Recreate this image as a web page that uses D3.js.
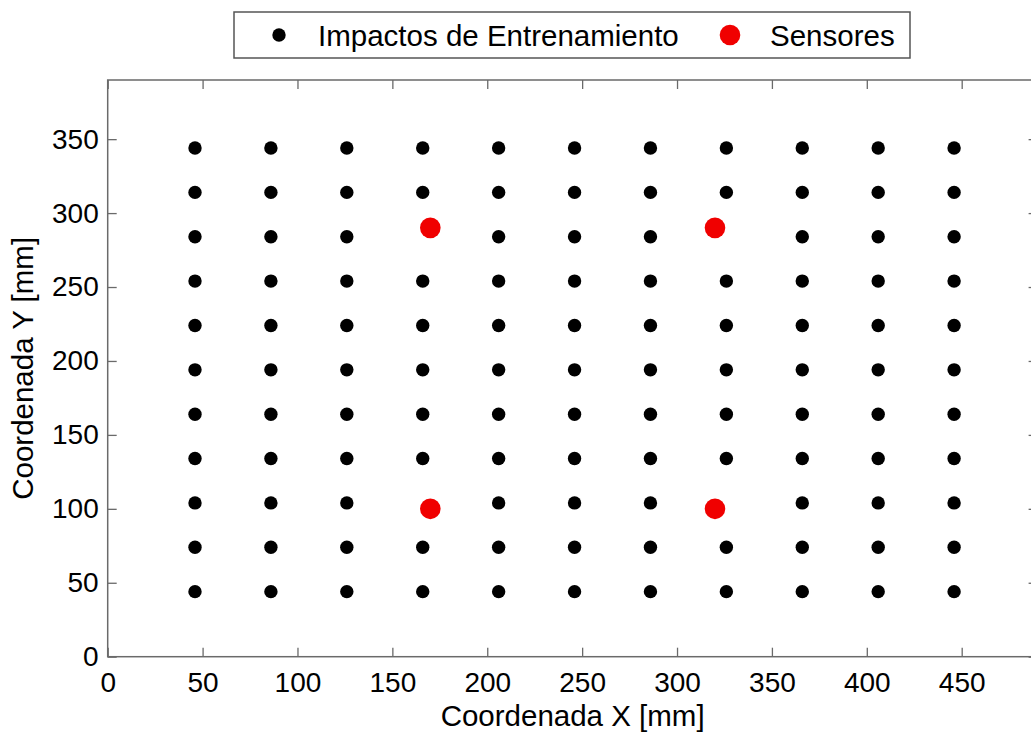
<!DOCTYPE html>
<html>
<head>
<meta charset="utf-8">
<script src="https://cdn.jsdelivr.net/npm/d3@7"></script>
<style>
  html, body { margin: 0; padding: 0; background: #fff; }
  svg { display: block; font-family: "Liberation Sans", Arial, sans-serif; }
</style>
</head>
<body>
<svg id="chart" width="1031" height="735"></svg>
<script>
// ---- data ----
const gridX = [46, 86, 126, 166, 206, 246, 286, 326, 366, 406, 446];
const gridY = [44, 74, 104, 134, 164, 194, 224, 254, 284, 314, 344];
const missingX = [166, 326, 166, 326];
const missingY = [284, 284, 104, 104];
const sensorX = [170, 320, 170, 320];
const sensorY = [290, 290, 100, 100];
const xTicks = [0, 50, 100, 150, 200, 250, 300, 350, 400, 450];
const yTicks = [0, 50, 100, 150, 200, 250, 300, 350];
const legendLabels = ["Impactos de Entrenamiento", "Sensores"];
const xTitle = "Coordenada X [mm]";
const yTitle = "Coordenada Y [mm]";

// ---- layout ----
const svg = d3.select("#chart");
const pLeft = 107.7, pRight = 1037.6, pTop = 80, pBottom = 656.7;
const x = d3.scaleLinear().domain([0, 490]).range([pLeft, pRight]);
const y = d3.scaleLinear().domain([0, 390]).range([pBottom, pTop]);
const axisColor = "#6a6a6a";

const impacts = [];
gridY.forEach(gy => gridX.forEach(gx => {
  const skip = missingX.some((mx, i) => mx === gx && missingY[i] === gy);
  if (!skip) impacts.push([gx, gy]);
}));
const sensors = sensorX.map((sx, i) => [sx, sensorY[i]]);

// axes
const tickLen = 9;
const gx0 = svg.append("g").attr("transform", `translate(0,${pBottom})`)
  .call(d3.axisBottom(x).tickValues(xTicks).tickSizeInner(-tickLen).tickSizeOuter(0).tickPadding(15));
const gxTop = svg.append("g").attr("transform", `translate(0,${pTop})`)
  .call(d3.axisTop(x).tickValues(xTicks).tickSizeInner(-tickLen).tickSizeOuter(0).tickFormat(""));
const gy0 = svg.append("g").attr("transform", `translate(${pLeft},0)`)
  .call(d3.axisLeft(y).tickValues(yTicks).tickSizeInner(-tickLen).tickSizeOuter(0).tickPadding(9));
const gyR = svg.append("g").attr("transform", `translate(${pRight},0)`)
  .call(d3.axisRight(y).tickValues(yTicks).tickSizeInner(-tickLen).tickSizeOuter(0).tickFormat(""));

[gx0, gxTop, gy0, gyR].forEach(g => {
  g.select(".domain").remove();
  g.selectAll(".tick line").attr("stroke", axisColor).attr("stroke-width", 1.3);
  g.selectAll("text").attr("fill", "#000").attr("font-size", 28)
    .attr("font-family", "Liberation Sans, Arial, sans-serif");
});
gx0.selectAll("text").attr("dy", "0.71em");

// box
svg.append("rect").attr("x", pLeft).attr("y", pTop)
  .attr("width", pRight - pLeft).attr("height", pBottom - pTop)
  .attr("fill", "none").attr("stroke", axisColor).attr("stroke-width", 1.5);

// points
svg.append("g").selectAll("circle").data(impacts).join("circle")
  .attr("cx", d => x(d[0])).attr("cy", d => y(d[1])).attr("r", 6.7).attr("fill", "#000");
svg.append("g").selectAll("circle").data(sensors).join("circle")
  .attr("cx", d => x(d[0])).attr("cy", d => y(d[1])).attr("r", 10.3).attr("fill", "#f00000");

// axis titles
svg.append("text").attr("x", (pLeft + pRight) / 2).attr("y", 726)
  .attr("text-anchor", "middle").attr("font-size", 29.5).text(xTitle);
svg.append("text").attr("transform", `translate(33,${(pTop + pBottom) / 2}) rotate(-90)`)
  .attr("text-anchor", "middle").attr("font-size", 29.5).text(yTitle);

// legend
const lg = svg.append("g");
lg.append("rect").attr("x", 234).attr("y", 12).attr("width", 676).attr("height", 46)
  .attr("fill", "#fff").attr("stroke", "#555").attr("stroke-width", 1.5);
lg.append("circle").attr("cx", 279).attr("cy", 35).attr("r", 6.7).attr("fill", "#000");
lg.append("text").attr("x", 318).attr("y", 45.5).attr("font-size", 29.5).text(legendLabels[0]);
lg.append("circle").attr("cx", 730).attr("cy", 35).attr("r", 10.3).attr("fill", "#f00000");
lg.append("text").attr("x", 770).attr("y", 45.5).attr("font-size", 29.5).text(legendLabels[1]);
</script>
</body>
</html>
